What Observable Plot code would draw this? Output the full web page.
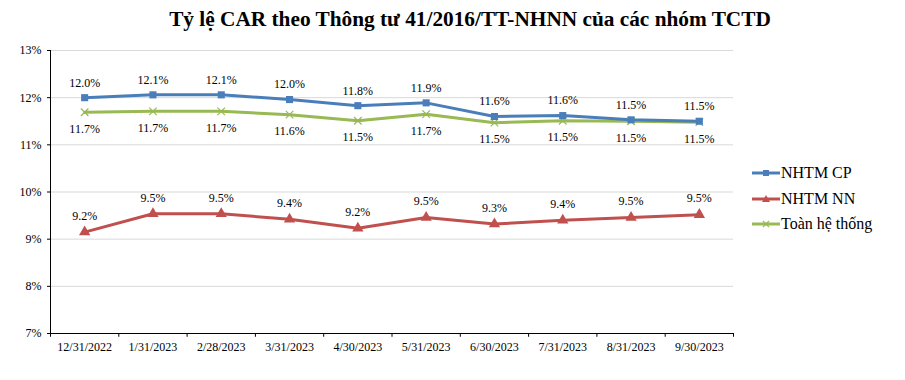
<!DOCTYPE html>
<html>
<head>
<meta charset="utf-8">
<script src="https://cdn.jsdelivr.net/npm/d3@7"></script>
<script src="https://cdn.jsdelivr.net/npm/@observablehq/plot@0.6"></script>
<style>
  html, body { margin: 0; padding: 0; background: #fff; }
  body { width: 905px; height: 380px; position: relative; overflow: hidden; font-family: "Liberation Serif", "Times New Roman", serif; }
  #title { position: absolute; top: 9px; left: 20px; width: 900px; text-align: center; font-size: 21.3px; line-height: 21px; font-weight: bold; color: #000; }
  #chart { position: absolute; top: 36px; left: 0; }
  #legend { position: absolute; left: 752px; top: 162px; font-size: 16px; color: #000; }
  .row { position: absolute; left: 0; height: 22px; white-space: nowrap; display: flex; align-items: center; }
  .row svg { display: block; }
  .row span { margin-left: 1px; }
</style>
</head>
<body>
<div id="title">Tỷ lệ CAR theo Thông tư 41/2016/TT-NHNN của các nhóm TCTD</div>
<div id="chart"></div>
<div id="legend"></div>
<script>
const dates = ["12/31/2022","1/31/2023","2/28/2023","3/31/2023","4/30/2023","5/31/2023","6/30/2023","7/31/2023","8/31/2023","9/30/2023"];
const seriesNames = ["NHTM CP", "NHTM NN", "Toàn hệ thống"];
const cp    = [12.00, 12.06, 12.06, 11.96, 11.83, 11.89, 11.60, 11.62, 11.53, 11.50];
const nn    = [9.15, 9.54, 9.54, 9.42, 9.23, 9.46, 9.32, 9.40, 9.46, 9.52];
const total = [11.69, 11.71, 11.71, 11.64, 11.51, 11.65, 11.47, 11.51, 11.50, 11.48];
const cpLabels    = ["12.0%","12.1%","12.1%","12.0%","11.8%","11.9%","11.6%","11.6%","11.5%","11.5%"];
const nnLabels    = ["9.2%","9.5%","9.5%","9.4%","9.2%","9.5%","9.3%","9.4%","9.5%","9.5%"];
const totalLabels = ["11.7%","11.7%","11.7%","11.6%","11.5%","11.7%","11.5%","11.5%","11.5%","11.5%"];
const yTicks = [7, 8, 9, 10, 11, 12, 13];

const colors = ["#4a7ebb", "#c0504d", "#98b954"];
const FONT = "Liberation Serif";

const mk = (vals, labels) => vals.map((v, i) => ({i, v, label: labels[i]}));
const dCP = mk(cp, cpLabels), dNN = mk(nn, nnLabels), dT = mk(total, totalLabels);
const idx = d3.range(dates.length);
const bounds = d3.range(dates.length + 1).map(i => i - 0.5);

const chart = Plot.plot({
  width: 905, height: 344,
  marginTop: 14, marginBottom: 47, marginLeft: 50, marginRight: 172,
  style: {fontSize: "12px", color: "#000", background: "#fff", overflow: "visible"},
  x: {type: "linear", domain: [-0.5, dates.length - 0.5]},
  y: {domain: [7, 13]},
  marks: [
    Plot.ruleY(yTicks.slice(1), {stroke: "#d9d9d9", strokeWidth: 1}),
    Plot.axisY(yTicks, {tickFormat: d => d + "%", tickSize: 3, tickPadding: 6, label: null, stroke: "#000", fontSize: 12, fontFamily: FONT}),
    Plot.axisX(idx, {tickFormat: i => dates[i], tickSize: 0, tickPadding: 9, label: null, fontSize: 12, fontFamily: FONT}),
    Plot.ruleY([7], {stroke: "#000", strokeWidth: 1}),
    Plot.ruleX([-0.5], {y1: 7, y2: 13, stroke: "#000", strokeWidth: 1}),
    Plot.ruleX(bounds, {y1: 7, y2: 6.92, stroke: "#000", strokeWidth: 1}),
    Plot.line(dT, {x: "i", y: "v", stroke: colors[2], strokeWidth: 3}),
    Plot.line(dNN, {x: "i", y: "v", stroke: colors[1], strokeWidth: 3}),
    Plot.line(dCP, {x: "i", y: "v", stroke: colors[0], strokeWidth: 3}),
    Plot.dot(dT, {x: "i", y: "v", symbol: "times", r: 3.5, stroke: colors[2], strokeWidth: 1.2}),
    Plot.dot(dNN, {x: "i", y: "v", symbol: "triangle", r: 4.2, fill: colors[1], stroke: "none"}),
    Plot.dot(dCP, {x: "i", y: "v", symbol: "square", r: 4, fill: colors[0], stroke: "none"}),
    Plot.text(dCP, {x: "i", y: "v", text: "label", dy: -15, fill: "#000", fontSize: 12, fontFamily: FONT}),
    Plot.text(dT, {x: "i", y: "v", text: "label", dy: 16.5, fill: "#000", fontSize: 12, fontFamily: FONT}),
    Plot.text(dNN, {x: "i", y: "v", text: "label", dy: -16, fill: "#000", fontSize: 12, fontFamily: FONT})
  ]
});
d3.select(chart).style("font-family", FONT);
d3.select(chart).selectAll("g, text").style("font-family", FONT);
document.getElementById("chart").appendChild(chart);

// Legend
const legend = document.getElementById("legend");
seriesNames.forEach((name, k) => {
  const row = document.createElement("div");
  row.className = "row";
  row.style.top = [0, 26, 51][k] + "px";
  const svg = d3.create("svg").attr("width", 28).attr("height", 10);
  svg.append("line").attr("x1", 0).attr("x2", 28).attr("y1", 5).attr("y2", 5)
    .attr("stroke", colors[k]).attr("stroke-width", 3);
  if (k === 0) svg.append("rect").attr("x", 11).attr("y", 2).attr("width", 6).attr("height", 6).attr("fill", colors[k]);
  if (k === 1) svg.append("path").attr("d", "M14,1 L18,8 L10,8 Z").attr("fill", colors[k]);
  if (k === 2) svg.append("path").attr("d", "M11,2 L17,8 M17,2 L11,8").attr("stroke", colors[k]).attr("stroke-width", 1.2);
  row.appendChild(svg.node());
  const span = document.createElement("span");
  span.textContent = name;
  row.appendChild(span);
  legend.appendChild(row);
});
</script>
</body>
</html>
